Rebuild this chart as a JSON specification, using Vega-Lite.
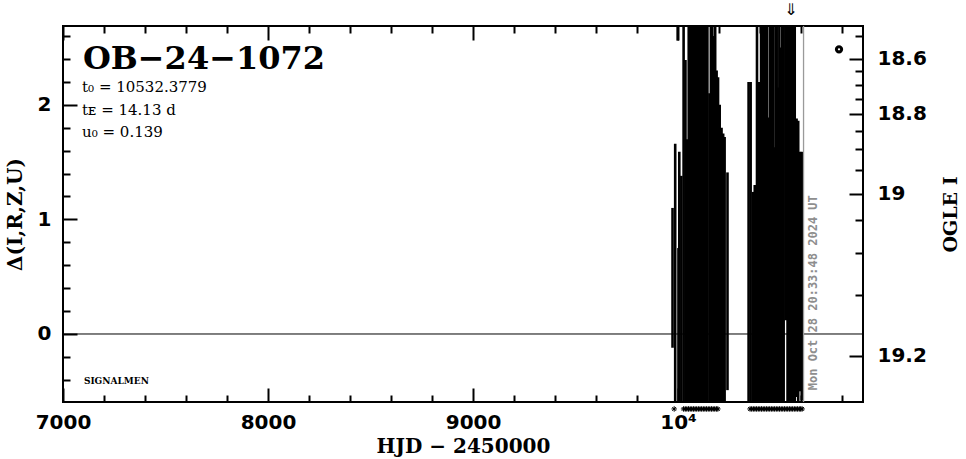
{
  "$schema": "https://vega.github.io/schema/vega-lite/v6.json",
  "width": 800,
  "height": 376,
  "autosize": "none",
  "padding": {"left": 63, "top": 26, "right": 103, "bottom": 57},
  "background": "white",
  "config": {
    "view": {"stroke": "black", "strokeWidth": 2},
    "axis": {
      "domain": false, "grid": false, "tickColor": "black", "tickWidth": 2,
      "labelFont": "DejaVu Sans", "labelFontWeight": "bold", "labelFontSize": 20, "labelColor": "black",
      "titleFont": "DejaVu Serif", "titleFontWeight": "bold", "titleFontSize": 20, "titleColor": "black",
      "labelOverlap": false, "labelFlush": false
    }
  },
  "datasets": {
    "bars": [
      {"t": 9973, "lo": -0.12, "hi": 1.10},
      {"t": 9986, "lo": -0.75, "hi": 1.66},
      {"t": 9998, "lo": 2.56, "hi": 3.5},
      {"t": 10002, "lo": -0.8, "hi": 0.75},
      {"t": 10006, "lo": -0.8, "hi": 1.59},
      {"t": 10016, "lo": -0.8, "hi": 1.38},
      {"t": 10027, "lo": -0.8, "hi": 3.0},
      {"t": 10036, "lo": -0.8, "hi": 2.39},
      {"t": 10045, "lo": -0.8, "hi": 1.7},
      {"t": 10052, "lo": -0.8, "hi": 3.0},
      {"t": 10059, "lo": -0.8, "hi": 3.0},
      {"t": 10066, "lo": -0.8, "hi": 3.0},
      {"t": 10073, "lo": -0.8, "hi": 3.0},
      {"t": 10080, "lo": -0.8, "hi": 3.0},
      {"t": 10087, "lo": -0.8, "hi": 3.0},
      {"t": 10094, "lo": -0.8, "hi": 3.0},
      {"t": 10101, "lo": -0.8, "hi": 3.0},
      {"t": 10108, "lo": -0.8, "hi": 3.0},
      {"t": 10115, "lo": -0.8, "hi": 3.0},
      {"t": 10122, "lo": -0.8, "hi": 3.0},
      {"t": 10129, "lo": -0.8, "hi": 3.0},
      {"t": 10136, "lo": -0.8, "hi": 3.0},
      {"t": 10143, "lo": -0.8, "hi": 3.0},
      {"t": 10153, "lo": -0.8, "hi": 2.1},
      {"t": 10160, "lo": -0.8, "hi": 3.0},
      {"t": 10167, "lo": -0.8, "hi": 3.0},
      {"t": 10174, "lo": -0.8, "hi": 2.6},
      {"t": 10181, "lo": -0.8, "hi": 3.0},
      {"t": 10188, "lo": -0.8, "hi": 2.3},
      {"t": 10195, "lo": -0.8, "hi": 2.24},
      {"t": 10203, "lo": -0.7, "hi": 2.0},
      {"t": 10212, "lo": -0.8, "hi": 1.8},
      {"t": 10220, "lo": -0.6, "hi": 1.75},
      {"t": 10227, "lo": -0.65, "hi": 1.72},
      {"t": 10241, "lo": -0.49, "hi": 1.41},
      {"t": 10344, "lo": -0.8, "hi": 2.2},
      {"t": 10354, "lo": -0.8, "hi": 2.2},
      {"t": 10366, "lo": -0.7, "hi": 1.24},
      {"t": 10374, "lo": -0.8, "hi": 1.3},
      {"t": 10385, "lo": -0.8, "hi": 3.0},
      {"t": 10395, "lo": -0.8, "hi": 2.2},
      {"t": 10405, "lo": -0.8, "hi": 3.0},
      {"t": 10412, "lo": -0.8, "hi": 3.0},
      {"t": 10420, "lo": -0.8, "hi": 3.0},
      {"t": 10427, "lo": -0.8, "hi": 3.0},
      {"t": 10434, "lo": -0.8, "hi": 3.0},
      {"t": 10441, "lo": -0.8, "hi": 1.89},
      {"t": 10448, "lo": -0.8, "hi": 3.0},
      {"t": 10455, "lo": -0.8, "hi": 3.0},
      {"t": 10462, "lo": -0.8, "hi": 3.0},
      {"t": 10468, "lo": -0.8, "hi": 1.63},
      {"t": 10475, "lo": -0.8, "hi": 3.0},
      {"t": 10481, "lo": -0.8, "hi": 3.0},
      {"t": 10488, "lo": -0.8, "hi": 2.15},
      {"t": 10494, "lo": -0.8, "hi": 3.0},
      {"t": 10501, "lo": -0.8, "hi": 2.5},
      {"t": 10508, "lo": -0.8, "hi": 3.0},
      {"t": 10515, "lo": -0.8, "hi": 3.0},
      {"t": 10525, "lo": 0.12, "hi": 3.0},
      {"t": 10534, "lo": -0.8, "hi": 3.0},
      {"t": 10541, "lo": -0.8, "hi": 3.0},
      {"t": 10548, "lo": -0.8, "hi": 3.0},
      {"t": 10555, "lo": -0.8, "hi": 3.0},
      {"t": 10562, "lo": -0.8, "hi": 3.0},
      {"t": 10569, "lo": -0.8, "hi": 3.0},
      {"t": 10578, "lo": -0.55, "hi": 1.88},
      {"t": 10586, "lo": -0.6, "hi": 1.86},
      {"t": 10595, "lo": -0.5, "hi": 1.59},
      {"t": 10603, "lo": -0.58, "hi": 1.59}
    ],
    "stars": [
      {"t": 9981}, {"t": 10027}, {"t": 10035}, {"t": 10043}, {"t": 10051}, {"t": 10059}, {"t": 10067},
      {"t": 10075}, {"t": 10083}, {"t": 10091}, {"t": 10099}, {"t": 10107}, {"t": 10115}, {"t": 10123},
      {"t": 10131}, {"t": 10139}, {"t": 10147}, {"t": 10155}, {"t": 10163}, {"t": 10171}, {"t": 10179},
      {"t": 10187}, {"t": 10194},
      {"t": 10351}, {"t": 10359}, {"t": 10367}, {"t": 10375}, {"t": 10383}, {"t": 10391}, {"t": 10399},
      {"t": 10407}, {"t": 10415}, {"t": 10423}, {"t": 10431}, {"t": 10439}, {"t": 10447}, {"t": 10455},
      {"t": 10463}, {"t": 10471}, {"t": 10479}, {"t": 10487}, {"t": 10495}, {"t": 10503}, {"t": 10511},
      {"t": 10519}, {"t": 10527}, {"t": 10535}, {"t": 10543}, {"t": 10551}, {"t": 10559}, {"t": 10567},
      {"t": 10575}, {"t": 10583}, {"t": 10591}, {"t": 10598}, {"t": 10605}
    ],
    "notes": [
      {"t": 7097, "d": 2.316, "label": "OB−24−1072", "kind": "title"},
      {"t": 7093, "d": 2.112, "label": "t₀ = 10532.3779", "kind": "param"},
      {"t": 7093, "d": 1.908, "label": "tᴇ = 14.13 d", "kind": "param"},
      {"t": 7093, "d": 1.719, "label": "u₀ = 0.139", "kind": "param"},
      {"t": 7102, "d": -0.433, "label": "SIGNALMEN", "kind": "small"}
    ],
    "refs": [{"t0": 10612, "zero": 0, "dbottom": -0.491, "stamp": "Mon Oct 28 20:33:48 2024 UT"}],
    "marker": [{"t": 10785, "d": 2.484}],
    "arrow": [{"t": 10550, "d": 2.9}]
  },
  "resolve": {"axis": {"x": "independent", "y": "independent"}},
  "layer": [
    {
      "data": {"name": "bars"},
      "mark": {"type": "rule", "color": "black", "strokeWidth": 2.6, "clip": true},
      "encoding": {
        "x": {"field": "t", "type": "quantitative", "scale": {"domain": [7000, 10902], "nice": false, "zero": false},
          "axis": {"orient": "bottom", "title": "HJD − 2450000", "titlePadding": -3,
            "values": [7000, 7200, 7400, 7600, 7800, 8000, 8200, 8400, 8600, 8800, 9000, 9200, 9400, 9600, 9800, 10000, 10200, 10400, 10600, 10800],
            "labelExpr": "datum.value == 10000 ? '10⁴' : (datum.value % 1000 == 0 ? format(datum.value, 'd') : '')",
            "tickSize": {"condition": {"test": "datum.value % 1000 == 0", "value": -14}, "value": -7},
            "labelPadding": 24}},
        "y": {"field": "lo", "type": "quantitative", "scale": {"domain": [-0.5934, 2.6876], "nice": false, "zero": false},
          "axis": {"orient": "left", "title": "Δ(I,R,Z,U)", "titlePadding": 12,
            "values": [-0.4, -0.2, 0, 0.2, 0.4, 0.6, 0.8, 1, 1.2, 1.4, 1.6, 1.8, 2, 2.2, 2.4, 2.6],
            "labelExpr": "(datum.value == 0 || datum.value == 1 || datum.value == 2) ? format(datum.value, 'd') : ''",
            "tickSize": {"condition": {"test": "datum.value == 0 || datum.value == 1 || datum.value == 2", "value": -14}, "value": -7},
            "labelPadding": 26}},
        "y2": {"field": "hi"}
      }
    },
    {
      "data": {"name": "refs"},
      "mark": {"type": "rule", "color": "black", "strokeWidth": 1},
      "encoding": {"y": {"field": "zero", "type": "quantitative", "scale": {"domain": [-0.5934, 2.6876], "nice": false, "zero": false}, "axis": null}}
    },
    {
      "data": {"name": "refs"},
      "mark": {"type": "rule", "color": "#9a9a9a", "strokeWidth": 1.3},
      "encoding": {"x": {"field": "t0", "type": "quantitative", "scale": {"domain": [7000, 10902], "nice": false, "zero": false}, "axis": null}}
    },
    {
      "data": {"name": "refs"},
      "mark": {"type": "text", "angle": 270, "align": "left", "baseline": "middle", "dy": 9,
        "font": "DejaVu Sans Mono", "fontWeight": "bold", "fontSize": 12, "color": "#8e8e8e"},
      "encoding": {
        "x": {"field": "t0", "type": "quantitative", "scale": {"domain": [7000, 10902], "nice": false, "zero": false}, "axis": null},
        "y": {"field": "dbottom", "type": "quantitative", "scale": {"domain": [-0.5934, 2.6876], "nice": false, "zero": false}, "axis": null},
        "text": {"field": "stamp"}
      }
    },
    {
      "data": {"name": "notes"},
      "transform": [{"filter": "datum.kind == 'small'"}],
      "mark": {"type": "text", "align": "left", "baseline": "alphabetic", "font": "DejaVu Serif", "fontWeight": "bold", "fontSize": 9, "color": "black"},
      "encoding": {
        "x": {"field": "t", "type": "quantitative", "scale": {"domain": [7000, 10902], "nice": false, "zero": false}, "axis": null},
        "y": {"field": "d", "type": "quantitative", "scale": {"domain": [-0.5934, 2.6876], "nice": false, "zero": false}, "axis": null},
        "text": {"field": "label"}
      }
    },
    {
      "data": {"name": "notes"},
      "transform": [{"filter": "datum.kind == 'title'"}],
      "mark": {"type": "text", "align": "left", "baseline": "alphabetic", "font": "DejaVu Serif", "fontWeight": "bold", "fontSize": 32, "color": "black"},
      "encoding": {
        "x": {"field": "t", "type": "quantitative", "scale": {"domain": [7000, 10902], "nice": false, "zero": false}, "axis": null},
        "y": {"field": "d", "type": "quantitative", "scale": {"domain": [-0.5934, 2.6876], "nice": false, "zero": false}, "axis": null},
        "text": {"field": "label"}
      }
    },
    {
      "data": {"name": "notes"},
      "transform": [{"filter": "datum.kind == 'param'"}],
      "mark": {"type": "text", "align": "left", "baseline": "alphabetic", "font": "DejaVu Serif", "fontSize": 15, "color": "black"},
      "encoding": {
        "x": {"field": "t", "type": "quantitative", "scale": {"domain": [7000, 10902], "nice": false, "zero": false}, "axis": null},
        "y": {"field": "d", "type": "quantitative", "scale": {"domain": [-0.5934, 2.6876], "nice": false, "zero": false}, "axis": null},
        "text": {"field": "label"}
      }
    },
    {
      "data": {"name": "stars"},
      "mark": {"type": "point", "shape": "M-1,0L1,0M0,-1L0,1M-0.7,-0.7L0.7,0.7M-0.7,0.7L0.7,-0.7", "filled": false, "stroke": "black", "strokeWidth": 1, "size": 30, "opacity": 1},
      "encoding": {
        "x": {"field": "t", "type": "quantitative", "scale": {"domain": [7000, 10902], "nice": false, "zero": false}, "axis": null},
        "y": {"datum": -0.654, "type": "quantitative", "scale": {"domain": [-0.5934, 2.6876], "nice": false, "zero": false}, "axis": null}
      }
    },
    {
      "data": {"name": "arrow"},
      "mark": {"type": "text", "text": "⇓", "font": "DejaVu Sans", "fontSize": 16, "color": "black", "baseline": "top", "align": "center"},
      "encoding": {
        "x": {"field": "t", "type": "quantitative", "scale": {"domain": [7000, 10902], "nice": false, "zero": false},
          "axis": {"orient": "top", "title": null, "labels": false,
            "values": [7000, 7200, 7400, 7600, 7800, 8000, 8200, 8400, 8600, 8800, 9000, 9200, 9400, 9600, 9800, 10000, 10200, 10400, 10600, 10800],
            "tickSize": {"condition": {"test": "datum.value % 1000 == 0", "value": -14}, "value": -7}}},
        "y": {"field": "d", "type": "quantitative", "scale": {"domain": [-0.5934, 2.6876], "nice": false, "zero": false}, "axis": null}
      }
    },
    {
      "data": {"name": "marker"},
      "mark": {"type": "point", "shape": "circle", "filled": false, "stroke": "black", "strokeWidth": 3, "size": 28, "opacity": 1},
      "encoding": {
        "x": {"field": "t", "type": "quantitative", "scale": {"domain": [7000, 10902], "nice": false, "zero": false}, "axis": null},
        "y": {"field": "d", "type": "quantitative", "scale": {"domain": [-0.5934, 2.6876], "nice": false, "zero": false},
          "axis": {"orient": "right", "title": "OGLE I", "titleAngle": 270, "titlePadding": 34, "titleFontSize": 19,
            "values": [2.6, 2.403, 2.292, 2.176, 2.048, 1.923, 1.769, 1.612, 1.428, 1.225, 0.998, 0.71, 0.344, -0.192],
            "labelExpr": "datum.value == 2.403 ? '18.6' : datum.value == 1.923 ? '18.8' : datum.value == 1.225 ? '19' : datum.value == -0.192 ? '19.2' : ''",
            "tickSize": {"condition": {"test": "datum.value == 2.403 || datum.value == 1.923 || datum.value == 1.225 || datum.value == -0.192", "value": -14}, "value": -8},
            "labelPadding": 28}}
      }
    }
  ]
}
